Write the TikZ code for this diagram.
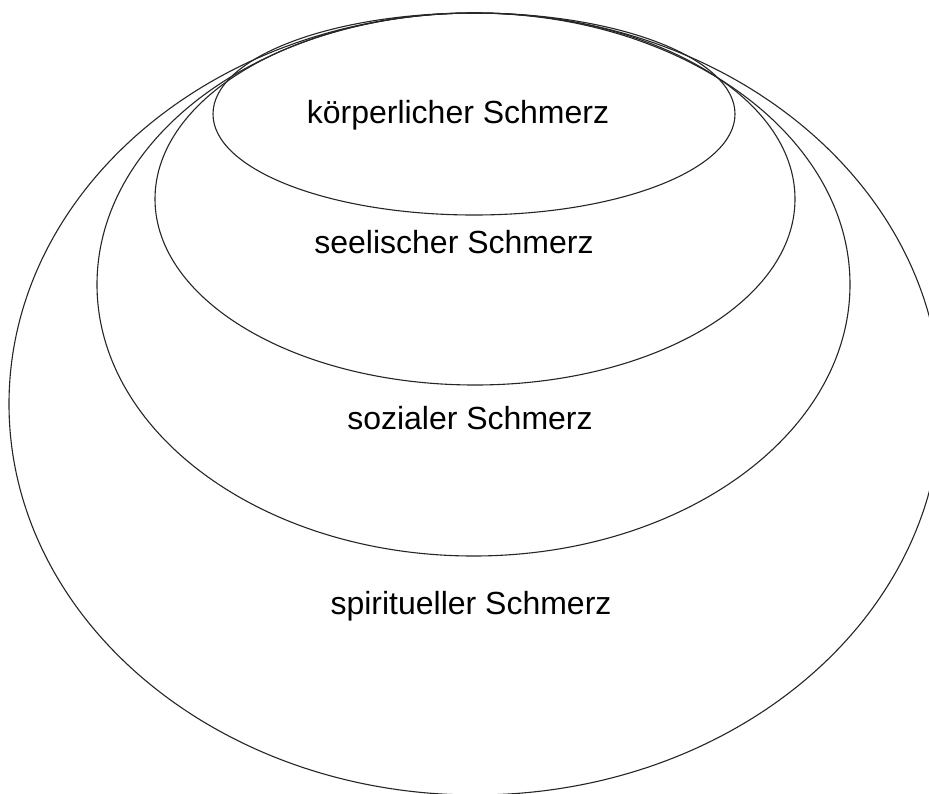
\documentclass[tikz,border=0pt]{standalone}
\usepackage{fontspec}
\setmainfont{Liberation Sans}
\begin{document}
\begin{tikzpicture}[x=1pt,y=-1pt,
  ring/.style={draw=black!85,line width=1.1pt},
  lbl/.style={font=\fontsize{32}{38}\selectfont,anchor=base,inner sep=0pt}]
\useasboundingbox (0,0) rectangle (929,793);
\clip (0,0) rectangle (929,793);
\fill[white] (0,0) rectangle (929,793);
\draw[ring] (475,404) ellipse [x radius=466pt, y radius=391pt];
\draw[ring] (473.5,284.5) ellipse [x radius=376.5pt, y radius=271.5pt];
\draw[ring] (475,199) ellipse [x radius=320pt, y radius=186pt];
\draw[ring] (474,114) ellipse [x radius=261pt, y radius=101pt];
\node[lbl] (k) at (458,123) {körperlicher Schmerz};
\node[lbl] (s) at (454,253) {seelischer Schmerz};
\node[lbl] (z) at (470,429) {sozialer Schmerz};
\node[lbl] (p) at (471,614) {spiritueller Schmerz};
\end{tikzpicture}
\end{document}
